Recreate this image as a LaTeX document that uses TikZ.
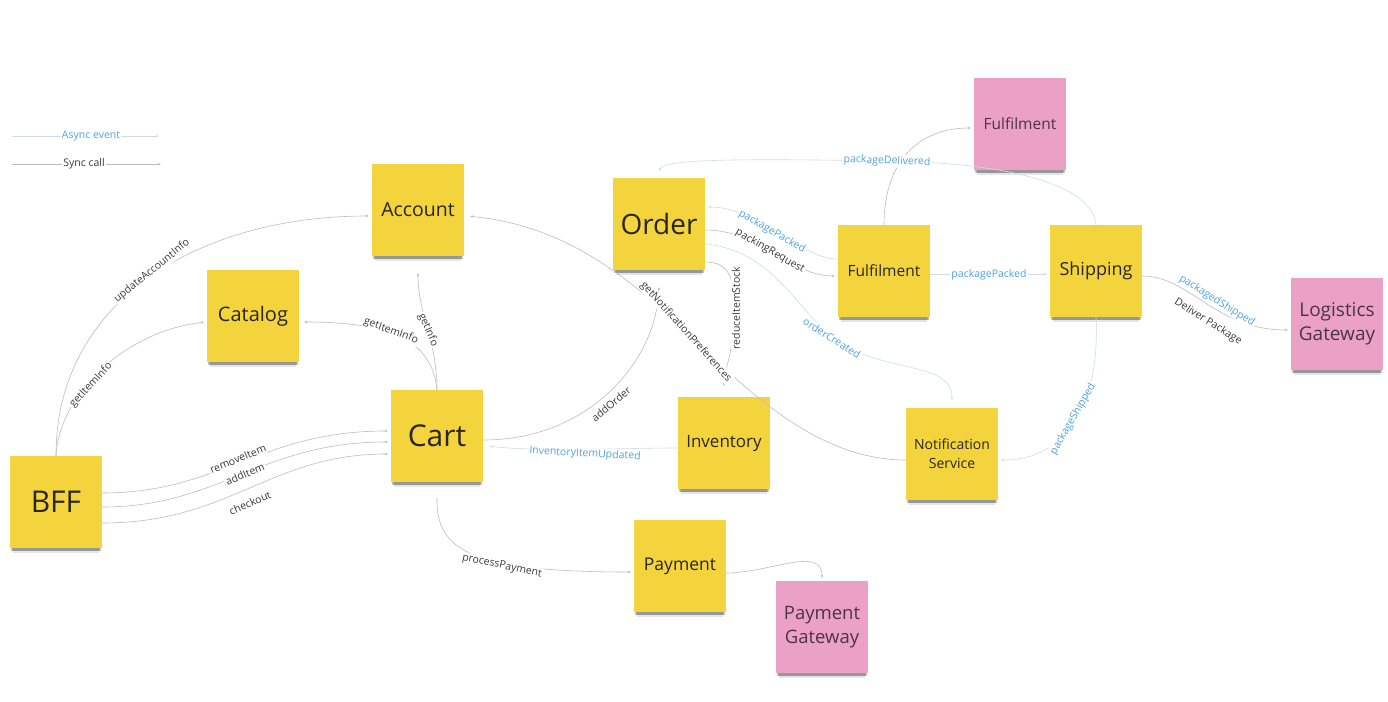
\documentclass[tikz,border=0pt]{standalone}
\usepackage{fontspec}
\setmainfont{Open Sans}
\usetikzlibrary{arrows.meta,shadows}
\definecolor{sticky}{HTML}{F4D43C}
\definecolor{pinky}{HTML}{EBA1C5}
\definecolor{linegray}{HTML}{BDBDBD}
\definecolor{asyncline}{HTML}{CFDCE5}
\definecolor{asynctext}{HTML}{4FA3E3}
\definecolor{synctext}{HTML}{3A3A3A}
\definecolor{notetext}{HTML}{2A2620}
\definecolor{pinktext}{HTML}{4D3346}
\begin{document}
\begin{tikzpicture}[x=1pt,y=-1pt,
  note/.style={minimum width=92pt,minimum height=92pt,inner sep=2pt,align=center,
    drop shadow={shadow xshift=0pt,shadow yshift=-9pt,shadow scale=0.93,opacity=0.10,fill=black},
    drop shadow={shadow xshift=0pt,shadow yshift=-6pt,shadow scale=0.95,opacity=0.15,fill=black},
    drop shadow={shadow xshift=0pt,shadow yshift=-4pt,shadow scale=0.97,opacity=0.22,fill=black}},
  ynote/.style={note,fill=sticky,text=notetext},
  pnote/.style={note,fill=pinky,text=pinktext},
  conn/.style={line width=0.6pt,-{Stealth[length=3pt,width=2.6pt]},shorten >=3pt},
  sync/.style={conn,draw=linegray},
  async/.style={conn,draw=asyncline},
  slabel/.style={fill=white,inner sep=1pt,text=synctext,font=\fontsize{10.5}{12}\selectfont},
  alabel/.style={slabel,text=asynctext},
]
\fill[white] (0,0) rectangle (1388,701);
\useasboundingbox (0,0) rectangle (1388,701);

% notes
\node[ynote,font=\fontsize{30}{36}\selectfont] (bff) at (56,502) {BFF};
\node[ynote,font=\fontsize{20}{24}\selectfont] (catalog) at (253,316) {Catalog};
\node[ynote,font=\fontsize{19.5}{24}\selectfont] (account) at (418,210) {Account};
\node[ynote,font=\fontsize{30}{36}\selectfont] (cart) at (437,436) {Cart};
\node[ynote,font=\fontsize{28}{34}\selectfont] (order) at (659,224) {Order};
\node[ynote,font=\fontsize{17}{21}\selectfont] (inventory) at (724,443) {Inventory};
\node[ynote,font=\fontsize{17.5}{21}\selectfont] (payment) at (680,566) {Payment};
\node[pnote,font=\fontsize{18.5}{24}\selectfont] (paygw) at (822,627) {Payment\\Gateway};
\node[ynote,font=\fontsize{15.5}{19}\selectfont] (fulfil) at (884,271) {Fulfilment};
\node[pnote,font=\fontsize{15.5}{19}\selectfont] (fulfilext) at (1020,124) {Fulfilment};
\node[ynote,font=\fontsize{18}{22}\selectfont] (shipping) at (1096,271) {Shipping};
\node[pnote,font=\fontsize{19}{24}\selectfont] (logistics) at (1337,324) {Logistics\\Gateway};
\node[ynote,font=\fontsize{14}{19}\selectfont] (notif) at (952,454) {Notification\\Service};

% legend
\coordinate (la1) at (12,136); \coordinate (la2) at (162,136);
\coordinate (ls1) at (12,164); \coordinate (ls2) at (164,164);
\draw[async] (la1) -- (la2);
\draw[sync] (ls1) -- (ls2);
\node[alabel] (lat) at (91,136) {Async event};
\node[slabel] (lst) at (84,164) {Sync call};

% connectors
\draw[sync] (bff.north) .. controls (56,300) and (200,216) .. ([yshift=-6pt]account.west);
\draw[sync] (bff.north) .. controls (60,390) and (130,330) .. ([yshift=-6pt]catalog.west);
\draw[sync] ([yshift=9pt]bff.east) .. controls (220,493) and (260,431) .. ([yshift=5pt]cart.west);
\draw[sync] ([yshift=-5pt]bff.east) .. controls (220,507) and (260,442) .. ([yshift=-6pt]cart.west);
\draw[sync] ([yshift=-21pt]bff.east) .. controls (230,523) and (270,454) .. ([yshift=-18pt]cart.west);
\draw[sync] (cart.north) .. controls (437,340) and (418,315) .. ([yshift=-14pt]account.south);
\draw[sync] (cart.north) .. controls (432,340) and (390,322) .. ([yshift=-6pt,xshift=2pt]catalog.east);
\draw[sync] ([yshift=-4pt]cart.east) .. controls (590,440) and (657,360) .. ([yshift=-14pt]order.south);
\draw[async] ([yshift=-5pt]inventory.west) .. controls (620,448) and (540,452) .. ([yshift=-10pt,xshift=4pt]cart.east);
\draw[sync] ([yshift=-38pt]order.east) .. controls (730,262) and (734,280) .. (734,305) .. controls (734,360) and (724,365) .. ([yshift=8pt]inventory.north);
\draw[sync] ([yshift=-6pt]notif.west) .. controls (820,460) and (750,395) .. (685,330) .. controls (620,270) and (560,225) .. ([yshift=-6pt,xshift=3pt]account.east);
\draw[sync] ([yshift=-6pt]order.east) .. controls (760,230) and (790,276) .. ([yshift=-5pt]fulfil.west);
\draw[async] ([yshift=12pt]fulfil.west) .. controls (800,259) and (760,207) .. ([yshift=17pt]order.east);
\draw[async] ([yshift=-20pt]order.east) .. controls (770,250) and (795,305) .. (832,338) .. controls (885,375) and (952,360) .. ([yshift=5pt]notif.north);
\draw[sync] (fulfil.north) .. controls (884,160) and (920,128) .. ([yshift=-4pt]fulfilext.west);
\draw[async] (shipping.north) .. controls (1092,185) and (1010,163) .. (890,161) .. controls (760,159) and (662,158) .. ([yshift=4pt]order.north);
\draw[async] ([yshift=-3pt]fulfil.east) -- ([yshift=-3pt]shipping.west);
\draw[sync] ([yshift=-5pt]shipping.east) .. controls (1190,276) and (1215,330) .. ([yshift=-6pt]logistics.west);
\draw[async] (shipping.south) .. controls (1100,400) and (1070,460) .. ([yshift=-6pt]notif.east);
\draw[sync] ([yshift=-16pt]cart.south) .. controls (436,550) and (470,572) .. ([yshift=-6pt]payment.west);
\draw[sync] ([yshift=-7pt]payment.east) .. controls (770,573) and (822,545) .. (paygw.north);

% labels
\node[slabel,rotate=39] (l1) at (152,271) {updateAccountInfo};
\node[slabel,rotate=47] (l2) at (91,385) {getItemInfo};
\node[slabel,rotate=22] (l3) at (238,459) {removeItem};
\node[slabel,rotate=23] (l4) at (245,474) {addItem};
\node[slabel,rotate=23] (l5) at (250,503) {checkout};
\node[slabel,rotate=-67] (l6) at (428,330) {getInfo};
\node[slabel,rotate=-20] (l7) at (391,331) {getItemInfo};
\node[slabel,rotate=40] (l8) at (611,404) {addOrder};
\node[alabel,rotate=-3] (l9) at (585,454) {InventoryItemUpdated};
\node[slabel,rotate=90] (l10) at (736,308) {reduceItemStock};
\node[slabel,rotate=-48] (l11) at (686,332) {getNotificationPreferences};
\node[alabel,rotate=-30] (l12) at (772,232) {packagePacked};
\node[slabel,rotate=-30] (l13) at (770,251) {packingRequest};
\node[alabel,rotate=-32] (l14) at (832,338) {orderCreated};
\node[alabel,rotate=-2] (l15) at (887,161) {packageDelivered};
\node[alabel] (l16) at (989,275) {packagePacked};
\node[alabel,rotate=-32] (l17) at (1217,301) {packagedShipped};
\node[slabel,rotate=-32] (l18) at (1208,322) {Deliver Package};
\node[alabel,rotate=60] (l19) at (1073,419) {packageShipped};
\node[slabel,rotate=-12] (l20) at (502,566) {processPayment};
\end{tikzpicture}
\end{document}
